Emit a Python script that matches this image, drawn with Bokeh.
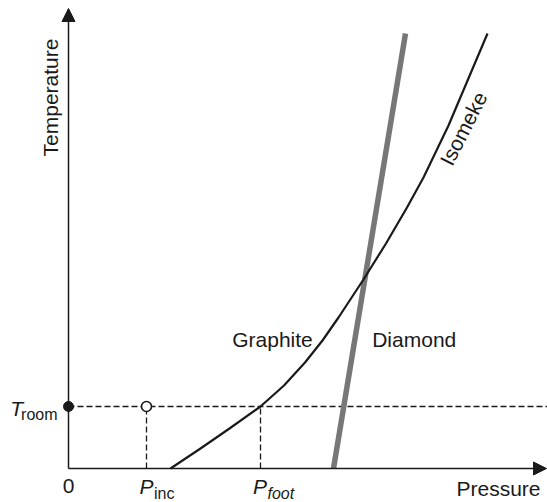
from bokeh.plotting import figure
from bokeh.models import Arrow, NormalHead, Range1d
from bokeh.core.properties import value
from bokeh.embed import file_html
from bokeh.resources import INLINE
import math

# ---- data (arbitrary units) ----
T_room = 6.2
P_inc = 7.8
P_foot = 19.2
P_max = 47.8
T_max = 46.0

iso_p = [10.2, 13.2, 16.1, 19.2, 21.55, 23.65, 25.4, 27.0, 28.25, 29.5, 31.75, 33.85, 35.5, 38.0, 41.9]
iso_t = [0.0, 2.0, 4.0, 6.2, 8.3, 10.6, 12.8, 15.1, 17.0, 18.9, 22.5, 26.1, 29.1, 34.3, 43.5]

bound_p = [26.5, 33.7]
bound_t = [0.0, 43.5]

FONT = value("Liberation Sans")
INK = "#1a1a1a"

p = figure(width=547, height=502, output_backend="svg", toolbar_location=None,
           x_range=Range1d(-6.8, 47.9), y_range=Range1d(-3.4, 46.8),
           x_axis_location=None, y_axis_location=None, min_border=0)
p.grid.visible = False
p.outline_line_color = None
p.background_fill_color = "white"
p.border_fill_color = "white"

# axes with arrows
p.add_layout(Arrow(end=NormalHead(size=13, fill_color=INK, line_color=INK, line_width=1),
                   x_start=0, y_start=0, x_end=P_max, y_end=0,
                   line_width=1.5, line_color=INK))
p.add_layout(Arrow(end=NormalHead(size=13, fill_color=INK, line_color=INK, line_width=1),
                   x_start=0, y_start=0, x_end=0, y_end=T_max,
                   line_width=1.5, line_color=INK))

# dashed guides
p.line([0, 47.9], [T_room, T_room], line_dash="6 3", line_width=1.3, line_color=INK)
p.line([P_inc, P_inc], [0, T_room], line_dash="6 3", line_width=1.3, line_color=INK)
p.line([P_foot, P_foot], [0, T_room], line_dash="6 3", line_width=1.3, line_color=INK)

# phase boundary (graphite / diamond)
p.line(bound_p, bound_t, line_width=5.5, line_color="#777777")

# isomeke
p.line(iso_p, iso_t, line_width=2.2, line_color=INK, line_join="round")

# markers
p.scatter([0], [T_room], size=10, fill_color=INK, line_color=INK)
p.scatter([P_inc], [T_room], size=10, fill_color="white", line_color=INK, line_width=1.6)

def txt(x, y, s, size="21px", style="normal", align="left", angle=0.0):
    p.text([x], [y], text=[s], text_font=FONT, text_font_size=size,
           text_font_style=style, text_align=align, text_baseline="middle",
           text_color=INK, angle=angle)

# axis titles
txt(-1.8, 37.1, "Temperature", align="center", angle=math.pi / 2)
txt(47.2, -2.0, "Pressure", align="right")

# tick-like labels
txt(0, -1.78, "0", align="center")
txt(-4.55, T_room - 0.17, "T", style="italic", align="right")
txt(-1.1, T_room - 0.8, "room", size="16px", align="right")
txt(P_inc + 0.7, -1.78, "P", style="italic", align="right")
txt(P_inc + 0.75, -2.45, "inc", size="16px")
txt(P_foot + 0.65, -1.78, "P", style="italic", align="right")
txt(P_foot + 0.7, -2.45, "foot", size="16px", style="italic")

# region labels
txt(16.37, 12.86, "Graphite")
txt(30.37, 12.86, "Diamond")
txt(39.5, 34.0, "Isomeke", align="center", angle=math.radians(63))

open("out.html", "w").write(file_html(p, INLINE))
